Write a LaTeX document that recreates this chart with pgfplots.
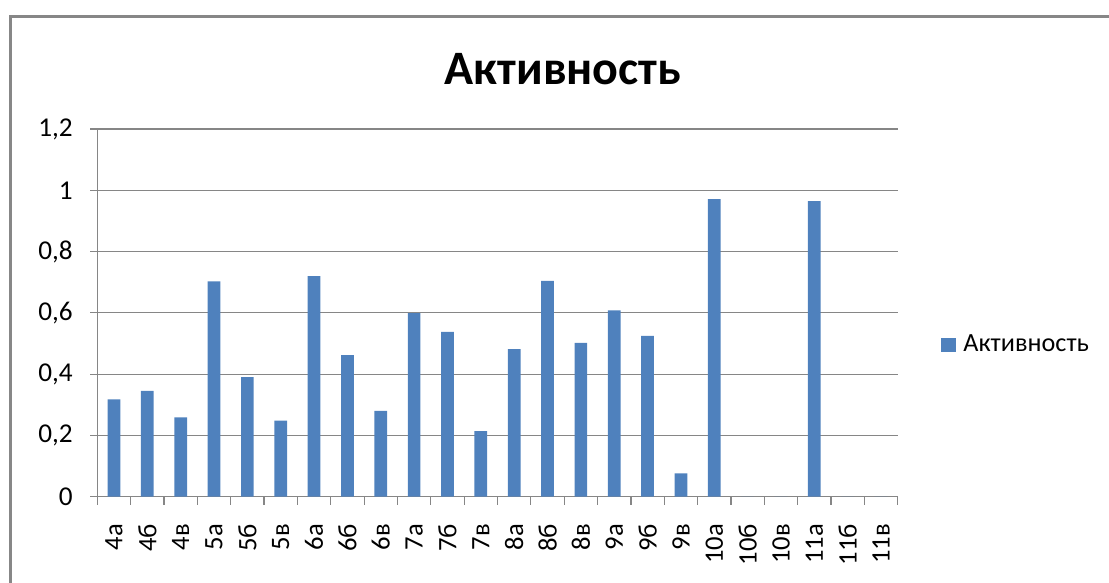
\documentclass[border=0pt]{standalone}
\usepackage{pgfplots}
\pgfplotsset{compat=1.18}
\usepackage{fontspec}
\setmainfont{Carlito}
\definecolor{barblue}{HTML}{4F81BD}
\definecolor{gridgray}{HTML}{868686}
\definecolor{framegray}{HTML}{878787}
\begin{document}
\begin{tikzpicture}
\useasboundingbox (0pt,0pt) rectangle (554.5pt,291.5pt);
\draw[framegray, line width=1.25pt] (5.25pt,0pt) -- (5.25pt,283.25pt) -- (554.5pt,283.25pt);
\node[anchor=base, font=\bfseries\fontsize{24}{29}\selectfont] at (281.5pt,249pt) {Активность};
\begin{axis}[
  at={(48.65pt,43.15pt)}, anchor=south west,
  scale only axis, width=400.2pt, height=183.85pt,
  xmin=-0.5, xmax=23.5, ymin=0, ymax=1.2,
  axis x line*=bottom, axis y line*=left,
  x axis line style={-, gridgray, line width=0.6pt},
  y axis line style={-, gridgray, line width=0.6pt},
  ytick={0,0.2,0.4,0.6,0.8,1,1.2},
  ymajorgrids, grid style={gridgray, line width=0.6pt},
  tick align=outside,
  major tick length=3.5pt, minor tick length=4pt,
  ytick style={draw=gridgray, line width=0.6pt},
  xtick={0,...,23},
  major x tick style={draw=none},
  minor xtick={-0.5,0.5,...,23.5},
  minor x tick style={draw=gridgray, line width=0.6pt},
  xticklabels={4а,4б,4в,5а,5б,5в,6а,6б,6в,7а,7б,7в,8а,8б,8в,9а,9б,9в,10а,10б,10в,11а,11б,11в},
  xticklabel style={rotate=90, anchor=east, inner sep=0pt, font=\fontsize{13.3}{16}\selectfont},
  xticklabel shift=10pt,
  yticklabel style={anchor=east, inner sep=0pt, font=\fontsize{13.6}{16}\selectfont},
  yticklabel shift=8.6pt,
  /pgf/number format/.cd, use comma, fixed, precision=1, assume math mode=true,
  /pgfplots/.cd,
  ybar, bar width=6.35pt,
  legend style={at={(1,0.4126)}, anchor=west, xshift=21.65pt, draw=none, fill=none, inner sep=0pt,
    font=\fontsize{13.1}{16}\selectfont, nodes={inner sep=0pt}, column sep=3.65pt},
  legend image code/.code={\fill[barblue] (0pt,-3.675pt) rectangle (7.35pt,3.675pt);},
]
\addplot[fill=barblue, draw=none] coordinates {
(0,0.318) (1,0.345) (2,0.259) (3,0.703) (4,0.39) (5,0.248) (6,0.72) (7,0.462)
(8,0.28) (9,0.599) (10,0.538) (11,0.214) (12,0.482) (13,0.704) (14,0.502)
(15,0.608) (16,0.525) (17,0.076) (18,0.971) (19,0) (20,0) (21,0.965) (22,0) (23,0)
};
\addlegendentry{Активность}
\end{axis}
\end{tikzpicture}
\end{document}
